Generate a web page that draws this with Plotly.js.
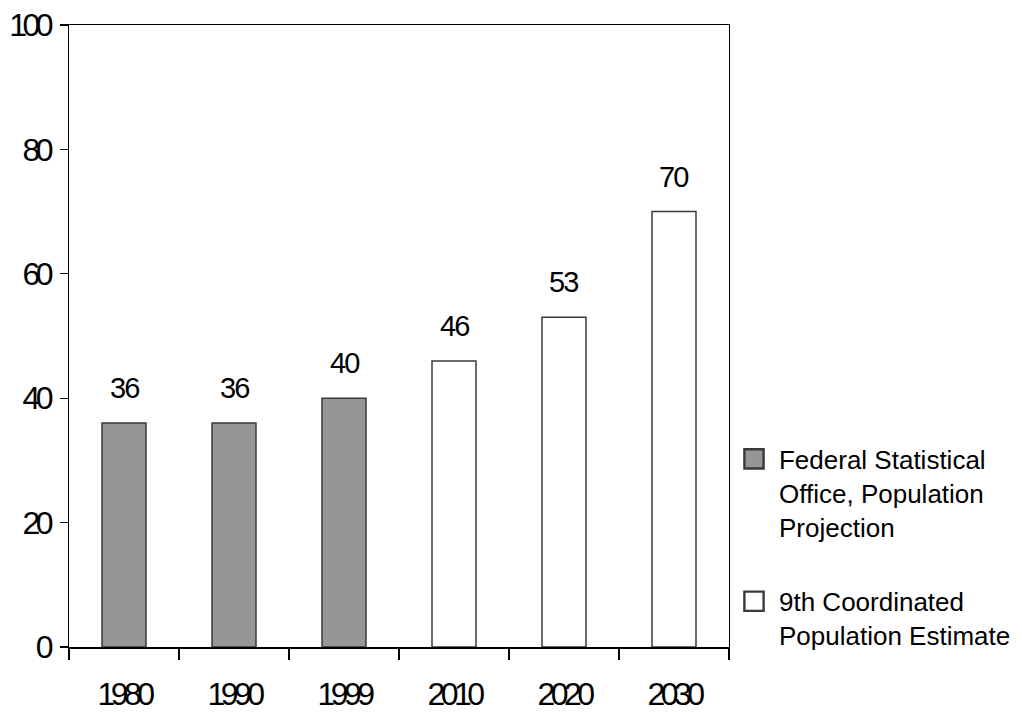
<!DOCTYPE html>
<html>
<head>
<meta charset="utf-8">
<script src="https://cdn.plot.ly/plotly-3.0.1.min.js"></script>
<style>
  html, body { margin: 0; padding: 0; background: #fff; }
  #chart { width: 1022px; height: 712px; }
  .xtick text, .ytick text { letter-spacing: -4.5px; }
  .annotation-text { letter-spacing: -2px; }
  .legend .legendpoints { transform-box: fill-box; transform-origin: center; transform: scale(1.6); }
</style>
</head>
<body>
<div id="chart"></div>
<script>
// Data
const histYears = ["1980", "1990", "1999"];
const histValues = [36, 36, 40];
const projYears = ["2010", "2020", "2030"];
const projValues = [46, 53, 70];
const allYears = histYears.concat(projYears);
const histName = "Federal Statistical<br>Office, Population<br>Projection";
const projName = "9th Coordinated<br>Population Estimate";
const yTicks = [0, 20, 40, 60, 80, 100];

const FONT = "Liberation Sans, Arial, sans-serif";
const barLine = { color: "#3a3a3a", width: 1.5 };

const traces = [
  {
    type: "bar", name: histName, x: histYears, y: histValues,
    width: 0.4, legendgroup: "a",
    marker: { color: "#969696", line: barLine },
    hoverinfo: "x+y"
  },
  {
    type: "bar", name: projName, x: projYears, y: projValues,
    width: 0.4, legendgroup: "b",
    marker: { color: "#ffffff", line: barLine },
    hoverinfo: "x+y"
  }
];

const labelX = histYears.concat(projYears);
const labelY = histValues.concat(projValues);
const annotations = labelX.map((x, i) => ({
  x: allYears.indexOf(x), y: labelY[i], xref: "x", yref: "y",
  text: String(labelY[i]), showarrow: false,
  yanchor: "bottom", yshift: 17,
  font: { family: FONT, size: 29, color: "#000" }
}));

const layout = {
  width: 1022, height: 712,
  margin: { l: 69, r: 293, t: 25, b: 65 },
  paper_bgcolor: "#fff", plot_bgcolor: "#fff",
  font: { family: FONT, color: "#000" },
  barmode: "overlay",
  showlegend: true,
  legend: {
    xref: "container", yref: "container",
    x: 0.7133, xanchor: "left", y: 0.3884, yanchor: "top",
    valign: "top", tracegroupgap: 38, itemwidth: 40,
    font: { family: FONT, size: 26, color: "#000" },
    bgcolor: "rgba(0,0,0,0)"
  },
  xaxis: {
    type: "category", categoryorder: "array", categoryarray: allYears,
    range: [-0.5, 5.5], automargin: false,
    showline: true, linecolor: "#000", linewidth: 1.5, mirror: true,
    ticks: "outside", tickson: "boundaries", ticklen: 11, tickwidth: 1.2, tickcolor: "#000",
    showgrid: false, zeroline: false,
    ticklabelstandoff: 18,
    tickfont: { family: FONT, size: 32, color: "#000" },
    fixedrange: true
  },
  yaxis: {
    range: [0, 100], tickvals: yTicks, automargin: false,
    showline: true, linecolor: "#000", linewidth: 1.5, mirror: true,
    ticks: "outside", ticklen: 8, tickwidth: 1.2, tickcolor: "#000",
    showgrid: false, zeroline: false,
    ticklabelstandoff: 4,
    tickfont: { family: FONT, size: 32, color: "#000" },
    fixedrange: true
  },
  annotations: annotations
};

Plotly.newPlot("chart", traces, layout, { displayModeBar: false, staticPlot: true });
</script>
</body>
</html>
